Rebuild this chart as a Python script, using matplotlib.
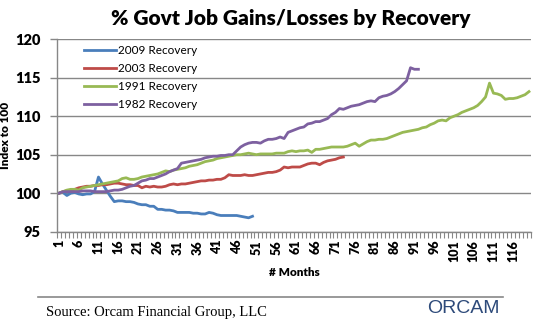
import matplotlib
matplotlib.use("Agg")
import matplotlib.pyplot as plt
import numpy as np

plt.rcParams["font.family"] = ["Lato", "DejaVu Sans"]

# Govt job index (start = 100) by month of recovery
rec_2009 = [100.0, 100.1, 99.7, 100.0, 100.1, 99.9, 99.8, 99.9, 99.9, 100.2,
            102.1, 101.2, 100.4, 99.6, 98.9, 99.0, 99.0, 98.9, 98.9, 98.8,
            98.6, 98.5, 98.5, 98.3, 98.3, 97.9, 97.9, 97.8, 97.8, 97.7,
            97.5, 97.5, 97.5, 97.5, 97.4, 97.4, 97.3, 97.3, 97.5, 97.4,
            97.2, 97.1, 97.1, 97.1, 97.1, 97.1, 97.0, 96.9, 96.8, 97.0]

rec_2003 = [100.0, 100.2, 100.3, 100.4, 100.5, 100.7, 100.8, 100.9, 100.9, 101.0,
            101.0, 101.1, 101.1, 101.2, 101.3, 101.3, 101.2, 101.1, 101.1, 101.0,
            101.0, 100.7, 100.9, 100.8, 100.9, 100.8, 100.8, 100.9, 101.1, 101.2,
            101.1, 101.2, 101.2, 101.3, 101.4, 101.5, 101.6, 101.6, 101.7, 101.7,
            101.8, 101.8, 102.0, 102.4, 102.3, 102.3, 102.3, 102.4, 102.3, 102.3,
            102.4, 102.5, 102.6, 102.7, 102.7, 102.8, 103.0, 103.4, 103.3, 103.4,
            103.4, 103.4, 103.6, 103.8, 103.9, 103.9, 103.7, 104.0, 104.2, 104.3,
            104.4, 104.6, 104.7]

rec_1991 = [100.0, 100.2, 100.4, 100.5, 100.5, 100.4, 100.7, 100.8, 100.9, 101.0,
            101.1, 101.2, 101.3, 101.4, 101.5, 101.6, 101.9, 102.0, 101.8, 101.8,
            101.9, 102.1, 102.2, 102.3, 102.4, 102.5, 102.7, 102.9, 102.8, 103.0,
            103.1, 103.2, 103.3, 103.5, 103.6, 103.7, 103.9, 104.1, 104.2, 104.3,
            104.5, 104.6, 104.7, 104.8, 104.9, 105.0, 105.0, 105.1, 105.2, 105.1,
            105.0, 105.1, 105.1, 105.1, 105.1, 105.2, 105.2, 105.2, 105.4, 105.5,
            105.4, 105.5, 105.5, 105.6, 105.3, 105.7, 105.7, 105.8, 105.9, 106.0,
            106.0, 106.0, 106.0, 106.1, 106.3, 106.5, 106.1, 106.4, 106.7, 106.9,
            106.9, 107.0, 107.0, 107.1, 107.3, 107.5, 107.7, 107.9, 108.0, 108.1,
            108.2, 108.3, 108.5, 108.6, 108.9, 109.1, 109.4, 109.5, 109.4, 109.8,
            110.0, 110.2, 110.5, 110.7, 110.9, 111.1, 111.4, 111.9, 112.5, 114.3,
            113.0, 112.9, 112.7, 112.2, 112.3, 112.3, 112.4, 112.6, 112.8, 113.2]

rec_1982 = [100.0, 100.2, 100.2, 100.2, 100.2, 100.2, 100.3, 100.3, 100.3, 100.2,
            100.2, 100.2, 100.2, 100.3, 100.4, 100.4, 100.5, 100.7, 100.9, 101.0,
            101.3, 101.6, 101.7, 101.9, 101.9, 102.1, 102.3, 102.5, 102.8, 103.0,
            103.2, 103.9, 104.0, 104.1, 104.2, 104.3, 104.4, 104.6, 104.7, 104.8,
            104.8, 104.9, 104.9, 105.0, 105.0, 105.5, 106.0, 106.3, 106.5, 106.6,
            106.6, 106.5, 106.8, 107.0, 107.0, 107.1, 107.3, 107.1, 107.9, 108.1,
            108.3, 108.5, 108.6, 109.0, 109.1, 109.3, 109.3, 109.5, 109.7, 110.2,
            110.5, 111.0, 110.9, 111.1, 111.3, 111.4, 111.5, 111.7, 111.9, 112.0,
            111.9, 112.4, 112.6, 112.7, 112.9, 113.2, 113.6, 114.1, 114.6, 116.3,
            116.1, 116.1]

series = [
    ("2009 Recovery", rec_2009, "#4a7ebb"),
    ("2003 Recovery", rec_2003, "#be4b48"),
    ("1991 Recovery", rec_1991, "#98b954"),
    ("1982 Recovery", rec_1982, "#7d60a0"),
]
n_months = 120
month_labels = list(range(1, n_months + 1, 5))

grid_col = "#878787"

fig = plt.figure(figsize=(5.55, 3.3), dpi=100)
ax = fig.add_axes([0.1027, 0.298, 0.854, 0.583])

for name, vals, col in series:
    x = np.arange(1, len(vals) + 1)
    ax.plot(x, vals, color=col, lw=2.0, label=name, solid_joinstyle="round")

ax.set_xlim(0.5, n_months + 0.5)
ax.set_ylim(95, 120)
ax.set_yticks([95, 100, 105, 110, 115, 120])
ax.yaxis.grid(True, color=grid_col, lw=1.0)
ax.set_axisbelow(True)

# category axis: boundaries get tick marks, every 5th month gets a label
ax.set_xticks(month_labels)
ax.set_xticklabels([str(m) for m in month_labels], rotation=90,
                   fontsize=9, fontweight="heavy")
ax.set_xticks(np.arange(0.5, n_months + 1), minor=True)
ax.tick_params(axis="x", which="major", length=0, pad=6)
ax.tick_params(axis="x", which="minor", length=4, color=grid_col, width=0.8)
ax.tick_params(axis="y", length=5, color=grid_col, width=1.0, pad=7)
for lbl in ax.get_yticklabels():
    lbl.set_fontweight("heavy")
    lbl.set_fontsize(10.5)

for side in ("top", "right"):
    ax.spines[side].set_visible(False)
for side in ("left", "bottom"):
    ax.spines[side].set_color(grid_col)
    ax.spines[side].set_linewidth(1.0)

ax.set_ylabel("Index to 100", fontsize=8.5, fontweight="heavy")
ax.yaxis.set_label_coords(-0.097, 0.5)
ax.set_xlabel("# Months", fontsize=8.5, fontweight="heavy", labelpad=4)

ax.legend(loc="upper left", bbox_to_anchor=(0.035, 1.025), frameon=False,
          fontsize=8.5, handlelength=2.7, handletextpad=0.2, labelspacing=0.6)

fig.text(0.523, 0.945, "% Govt Job Gains/Losses by Recovery", ha="center",
         va="center", fontsize=15, fontweight="heavy")

# footer rule, source note and logo
fig.add_artist(plt.Line2D([0.068, 0.907], [0.1, 0.1], color="#888888", lw=1.2))
fig.text(0.082, 0.052, "Source: Orcam Financial Group, LLC", family="Liberation Serif",
         fontsize=10.5, va="center", ha="left")
fig.text(0.9, 0.065, "ORCAM", family="Liberation Sans", fontsize=14,
         color="#2d4a7a", ha="right", va="center")

fig.savefig("out.png", dpi=100)
